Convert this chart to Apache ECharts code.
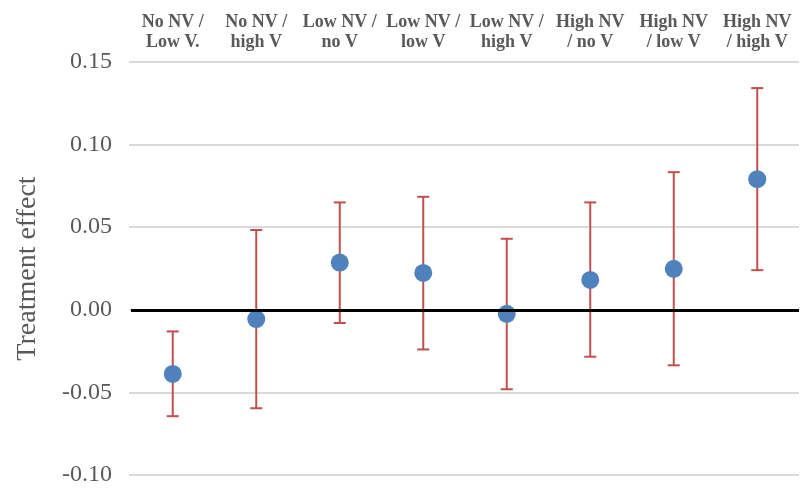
<!DOCTYPE html>
<html>
<head>
<meta charset="utf-8">
<script src="https://cdn.jsdelivr.net/npm/echarts@6/dist/echarts.min.js"></script>
<style>
html,body{margin:0;padding:0;background:#fff;}
#c{width:809px;height:488px;}
</style>
</head>
<body>
<div id="c"></div>
<script>
var categories = ['No NV /\nLow V.', 'No NV /\nhigh V', 'Low NV /\nno V', 'Low NV /\nlow V', 'Low NV /\nhigh V', 'High NV\n/ no V', 'High NV\n/ low V', 'High NV\n/ high V'];
var effect = [-0.0388, -0.0056, 0.0286, 0.0223, -0.0024, 0.0181, 0.0248, 0.0791];
var upper  = [-0.0131, 0.0483, 0.0650, 0.0684, 0.0430, 0.0650, 0.0833, 0.1342];
var lower  = [-0.0644, -0.0596, -0.0080, -0.0240, -0.0481, -0.0284, -0.0336, 0.0240];
var yMin = -0.10, yMax = 0.15, yStep = 0.05;
var yTitle = 'Treatment effect';

var errData = categories.map(function (c, i) { return [i, lower[i], upper[i]]; });

var chart = echarts.init(document.getElementById('c'));
chart.setOption({
  animation: false,
  backgroundColor: '#ffffff',
  grid: { left: 131, right: 10, top: 62, bottom: 13, containLabel: false },
  xAxis: {
    type: 'category',
    position: 'top',
    data: categories,
    axisLine: { show: false },
    axisTick: { show: false },
    axisLabel: {
      interval: 0,
      margin: 10,
      fontFamily: 'Liberation Serif',
      fontWeight: 'bold',
      fontSize: 18,
      lineHeight: 20,
      color: '#595959'
    }
  },
  yAxis: {
    type: 'value',
    min: yMin, max: yMax, interval: yStep,
    name: yTitle,
    nameLocation: 'middle',
    nameGap: 89,
    nameRotate: 90,
    nameTextStyle: { fontFamily: 'Liberation Serif', fontSize: 28, color: '#595959' },
    axisLine: { show: false },
    axisTick: { show: true, length: 2, lineStyle: { color: '#d9d9d9', width: 2 } },
    splitLine: { lineStyle: { color: '#d9d9d9', width: 2 } },
    axisLabel: {
      margin: 19,
      fontFamily: 'Liberation Serif',
      fontSize: 24,
      color: '#595959',
      formatter: function (v) { return v.toFixed(2); }
    }
  },
  series: [
    {
      type: 'custom',
      z: 2,
      data: errData,
      renderItem: function (params, api) {
        var x = api.value(0);
        var lo = api.coord([x, api.value(1)]);
        var hi = api.coord([x, api.value(2)]);
        var hw = 6;
        var st = { stroke: '#c0504d', lineWidth: 2 };
        return {
          type: 'group',
          children: [
            { type: 'line', shape: { x1: hi[0], y1: hi[1], x2: lo[0], y2: lo[1] }, style: st },
            { type: 'line', shape: { x1: hi[0] - hw, y1: hi[1], x2: hi[0] + hw, y2: hi[1] }, style: st },
            { type: 'line', shape: { x1: lo[0] - hw, y1: lo[1], x2: lo[0] + hw, y2: lo[1] }, style: st }
          ]
        };
      }
    },
    {
      type: 'line',
      z: 3,
      data: [],
      markLine: {
        silent: true,
        symbol: ['none', 'none'],
        label: { show: false },
        lineStyle: { color: '#000000', width: 3, type: 'solid' },
        data: [{ yAxis: 0 }]
      }
    },
    {
      type: 'scatter',
      z: 4,
      data: effect,
      symbol: 'circle',
      symbolSize: 18,
      itemStyle: { color: '#4f81bd', opacity: 1 }
    }
  ]
});
</script>
</body>
</html>
